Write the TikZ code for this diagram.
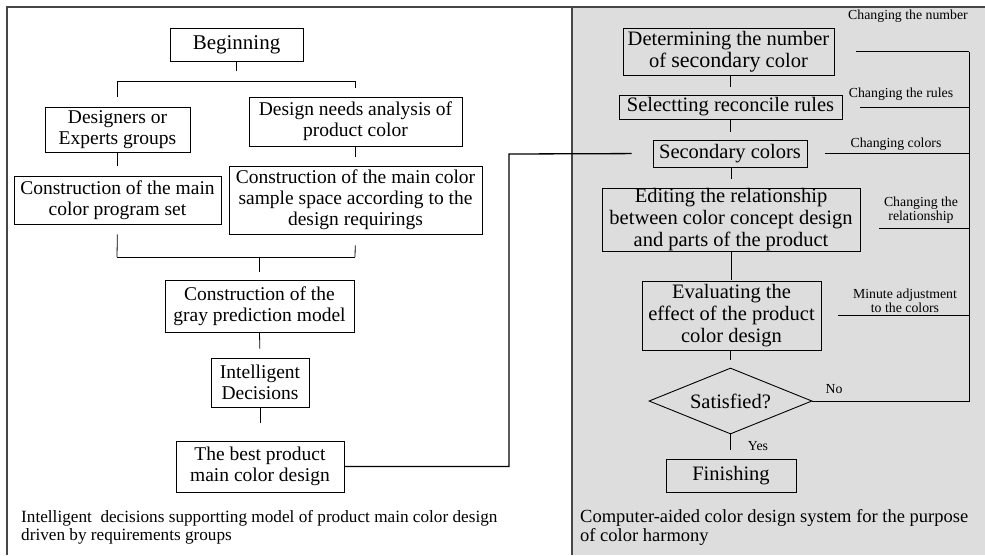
\documentclass[tikz,border=0pt]{standalone}
\usepackage{fontspec}
\setmainfont{Liberation Serif}
\usetikzlibrary{shapes.geometric}
\definecolor{panelgray}{RGB}{221,221,221}
\definecolor{framegray}{RGB}{70,70,70}
\tikzset{
  box/.style={draw, line width=0.9pt, inner sep=0pt, align=center, font=\fontsize{19.5}{21}\selectfont},
  rbox/.style={box, font=\fontsize{20.5}{22}\selectfont},
  conn/.style={line width=0.8pt},
  small/.style={inner sep=0pt, align=center, font=\fontsize{13.8}{14}\selectfont},
  caption/.style={inner sep=0pt, align=left, anchor=west, font=\fontsize{18.5}{19}\selectfont},
  frame/.style={line width=1.2pt, draw=framegray}
}
\begin{document}
\begin{tikzpicture}[x=1pt,y=-1pt]
\useasboundingbox (0,0) rectangle (985,555);
% panels
\fill[panelgray] (572,7) rectangle (985,555);
\draw[frame] (7,555) -- (7,7) -- (985,7);
\draw[frame] (572,7) -- (572,555);

% left panel nodes
\node[box, minimum width=133, minimum height=33, font=\fontsize{21}{22}\selectfont] (begin) at (236.5,44.5) {Beginning};
\node[box, minimum width=145, minimum height=45] (designers) at (117.5,129.5) {Designers or\\Experts groups};
\node[box, minimum width=213, minimum height=49] (needs) at (355.5,121.5) {Design needs analysis of\\product color};
\node[box, minimum width=207, minimum height=48] (progset) at (117.5,200) {Construction of the main\\color program set};
\node[box, minimum width=253, minimum height=68] (sample) at (355.5,200) {Construction of the main color\\sample space according to the\\design requirings};
\node[box, minimum width=189, minimum height=52] (gray) at (259.5,306) {Construction of the\\gray prediction model};
\node[box, minimum width=98, minimum height=49] (intel) at (260,382.5) {Intelligent\\Decisions};
\node[box, minimum width=168, minimum height=51] (best) at (260,466.5) {The best product\\main color design};

% left connectors
\coordinate (b1) at (117,81);
\coordinate (b2) at (355,81);
\coordinate (c1) at (117,257);
\coordinate (c2) at (355,257);
\coordinate (c3) at (259,257);
\draw[conn, shorten >=10pt] (begin.south) -- (begin.south |- b1);
\draw[conn] (b1) -- (b2);
\draw[conn, shorten >=10pt] (b1) -- (b1 |- designers.north);
\draw[conn, shorten >=9pt] (b2) -- (b2 |- needs.north);
\draw[conn, shorten >=10pt] (designers.south) -- (designers.south |- progset.north);
\draw[conn, shorten >=9pt] (needs.south) -- (needs.south |- sample.north);
\draw[conn, shorten <=10pt] (progset.south) -- (c1);
\draw[conn, shorten <=11pt] (sample.south) -- (c2);
\draw[conn] (c1) -- (c2);
\draw[conn, shorten >=8pt] (c3) -- (c3 |- gray.north);
\draw[conn, shorten >=9pt] (gray.south) -- (intel.north);
\draw[conn, shorten >=18pt] (intel.south) -- (best.north);

% right panel nodes
\node[rbox, minimum width=211, minimum height=47] (determ) at (728.5,51.5) {Determining the number\\of {\fontsize{22}{22}\selectfont secondary} color};
\node[rbox, minimum width=223, minimum height=24] (select) at (730.5,107) {Selectting reconcile rules};
\node[rbox, minimum width=154, minimum height=27] (second) at (730,153.5) {Secondary colors};
\node[rbox, minimum width=258, minimum height=63] (editing) at (731,219.5) {Editing the relationship\\between color concept design\\and parts of the product};
\node[rbox, minimum width=179, minimum height=69] (eval) at (731.5,315.5) {Evaluating the\\effect of the product\\color design};
\node[diamond, draw, line width=0.9pt, inner sep=0pt, aspect=2.47, minimum width=163, minimum height=66, font=\fontsize{20.5}{22}\selectfont] (sat) at (730.5,401) {Satisfied?};
\node[rbox, minimum width=130, minimum height=33] (finish) at (731,475.5) {Finishing};

% right connectors
\draw[conn, shorten >=8pt] (determ.south -| select.north) -- (select.north);
\draw[conn, shorten >=8pt] (select.south) -- (select.south |- second.north);
\draw[conn, shorten >=9pt] (second.south -| editing.north) -- (editing.north);
\draw[conn, shorten >=1pt] (editing.south) -- (editing.south |- eval.north);
\draw[conn, shorten >=8pt] (eval.south -| sat.north) -- (sat.north);
\draw[conn, shorten >=9pt] (sat.south) -- (sat.south |- finish.north);

% feedback loop
\coordinate (rtop) at (969,52);
\coordinate (rbot) at (rtop |- sat.east);
\draw[conn] (sat.east) -- (rbot) -- (rtop);
\draw[conn, shorten <=22pt] (determ.east) -- (determ.east -| rtop);
\draw[conn, shorten <=18pt] (select.east) -- (select.east -| rtop);
\draw[conn, shorten <=18pt] (second.east) -- (second.east -| rtop);
\coordinate (edr) at ([yshift=-8.5pt]editing.east);
\draw[conn, shorten <=19pt] (edr) -- (edr -| rtop);
\draw[conn, shorten <=17pt] (eval.east) -- (eval.east -| rtop);

% main link
\coordinate (kx) at (509,154);
\draw[line width=1.3pt, shorten >=21pt] (best.east) -| (kx) -- (second.west);

% labels
\node[small] (l1) at (908,16) {Changing the number};
\node[small] (l2) at (901,94) {Changing the rules};
\node[small] (l3) at (896,144) {Changing colors};
\node[small] (l4) at (921,210) {Changing the\\relationship};
\node[small] (l5) at (905,301) {Minute adjustment\\to the colors};
\node[small] (lno) at (834,389) {No};
\node[small] (lyes) at (758,446) {Yes};

% captions
\node[caption, font=\fontsize{17.2}{18.5}\selectfont] (capl) at (21,527.5) {Intelligent\ \ decisions supportting model of product main color design\\driven by requirements groups};
\node[caption] (capr) at (580,527.5) {Computer-aided color design system for the purpose\\of color harmony};
\end{tikzpicture}
\end{document}
